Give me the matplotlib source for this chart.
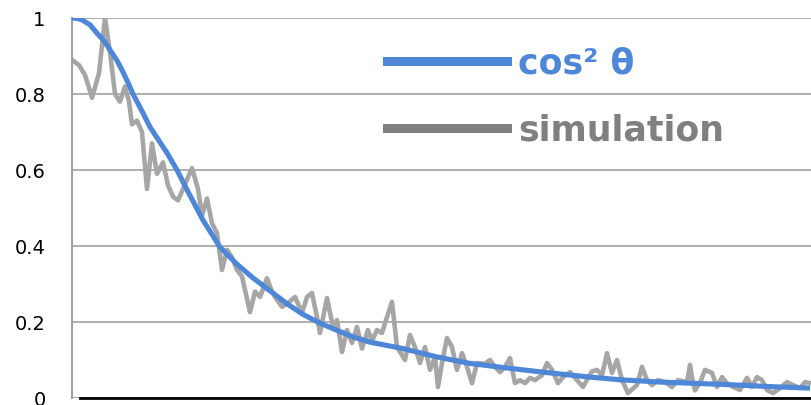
import matplotlib.pyplot as plt
from matplotlib.lines import Line2D

plt.rcParams['font.family'] = ['DejaVu Sans']

# theoretical curve
theory_x = [0, 5, 10, 18, 25, 32, 38, 45, 51, 56, 61, 70, 78, 87, 95, 105, 115,
            131, 148, 165, 181, 198, 215, 231, 248, 265, 281, 298, 331, 365, 398,
            438, 478, 518, 548, 588, 628, 658, 698, 738]
theory_y = [1.0, 0.999, 0.995, 0.982, 0.96, 0.94, 0.916, 0.888, 0.858, 0.83, 0.8,
            0.755, 0.713, 0.677, 0.645, 0.6, 0.548, 0.468, 0.397, 0.352, 0.316,
            0.282, 0.248, 0.22, 0.197, 0.178, 0.161, 0.147, 0.13, 0.108, 0.091,
            0.078, 0.066, 0.055, 0.048, 0.042, 0.038, 0.035, 0.03, 0.026]

# simulation
sim_x = [0, 7, 13, 20, 27, 33, 38, 43, 48, 53, 57, 60, 65, 70, 75, 80, 85, 91, 96,
         101, 106, 111, 120, 126, 130, 135, 140, 145, 150, 155, 160, 165, 170,
         178, 183, 188, 195, 200, 203, 210, 216, 223, 230, 235, 240, 245, 248,
         255, 261, 265, 270, 275, 280, 285, 290, 296, 300, 305, 310, 313, 320,
         325, 333, 338, 343, 348, 353, 358, 363, 366, 370, 375, 380, 385, 390,
         395, 400, 405, 413, 418, 423, 428, 433, 438, 443, 448, 453, 458, 463,
         470, 475, 480, 486, 491, 498, 505, 511, 516, 520, 525, 530, 535, 540,
         545, 550, 556, 565, 570, 575, 580, 586, 593, 600, 606, 615, 618, 620,
         623, 628, 633, 640, 645, 650, 655, 661, 668, 675, 680, 685, 690, 695,
         701, 708, 715, 721, 728, 733, 738]
sim_y = [0.89, 0.876, 0.85, 0.79, 0.855, 1.0, 0.91, 0.80, 0.78, 0.82, 0.78, 0.72,
         0.73, 0.70, 0.55, 0.67, 0.59, 0.62, 0.56, 0.53, 0.52, 0.55, 0.605, 0.55,
         0.48, 0.525, 0.46, 0.434, 0.337, 0.39, 0.37, 0.337, 0.32, 0.226, 0.28,
         0.266, 0.315, 0.28, 0.266, 0.24, 0.25, 0.266, 0.224, 0.266, 0.276,
         0.213, 0.171, 0.263, 0.187, 0.205, 0.121, 0.179, 0.145, 0.187, 0.13,
         0.179, 0.15, 0.179, 0.171, 0.197, 0.253, 0.134, 0.10, 0.166, 0.134,
         0.092, 0.134, 0.074, 0.108, 0.029, 0.092, 0.158, 0.134, 0.074, 0.118,
         0.082, 0.039, 0.092, 0.09, 0.1, 0.082, 0.068, 0.082, 0.105, 0.039,
         0.047, 0.039, 0.053, 0.047, 0.06, 0.092, 0.074, 0.039, 0.055, 0.068,
         0.047, 0.029, 0.053, 0.07, 0.074, 0.06, 0.118, 0.066, 0.1, 0.047,
         0.013, 0.034, 0.082, 0.047, 0.034, 0.047, 0.042, 0.029, 0.047, 0.042,
         0.087, 0.053, 0.02, 0.04, 0.074, 0.066, 0.029, 0.055, 0.039, 0.029,
         0.021, 0.053, 0.029, 0.055, 0.047, 0.021, 0.013, 0.026, 0.042, 0.034,
         0.026, 0.042, 0.039]

yticks = [0, 0.2, 0.4, 0.6, 0.8, 1]
yticklabels = ['0', '0.2', '0.4', '0.6', '0.8', '1']

blue = '#4F87D8'
grey = '#A6A6A6'

fig = plt.figure(figsize=(8.11, 4.05), dpi=100)
ax = fig.add_axes([72 / 811, 1 - 398 / 405, 1 - 72 / 811, 380 / 405])

ax.plot(sim_x, sim_y, color=grey, lw=3.3, solid_joinstyle='round', zorder=2)
ax.plot(theory_x, theory_y, color=blue, lw=3.7, solid_capstyle='butt',
        solid_joinstyle='round', zorder=3)

ax.set_xlim(0, 739)
ax.set_ylim(0, 1)
ax.set_yticks(yticks)
ax.set_yticklabels(yticklabels, fontsize=14)
ax.set_xticks([])
ax.tick_params(axis='y', length=0, pad=19)
ax.yaxis.grid(True, color='#A0A0A0', lw=1.2)
ax.set_axisbelow(True)
for s in ['top', 'right']:
    ax.spines[s].set_visible(False)
ax.spines['left'].set_color('#A0A0A0')
ax.spines['left'].set_linewidth(1.5)
ax.spines['bottom'].set_color('black')
ax.spines['bottom'].set_linewidth(2)
ax.spines['bottom'].set_bounds(8, 739)

handles = [Line2D([], [], color=blue, lw=6.5), Line2D([], [], color='#808080', lw=6.5)]
leg = ax.legend(handles, ['cos² θ', 'simulation'], loc='upper left',
                bbox_to_anchor=(387 / 811, 1 - 46 / 405), bbox_transform=fig.transFigure,
                frameon=False, borderpad=0, borderaxespad=0, handlelength=3.45,
                handletextpad=0.32, labelspacing=0.96,
                prop={'size': 25, 'weight': 'bold'})
leg.get_texts()[0].set_color(blue)
leg.get_texts()[1].set_color('#808080')

fig.savefig('out.png', dpi=100)
